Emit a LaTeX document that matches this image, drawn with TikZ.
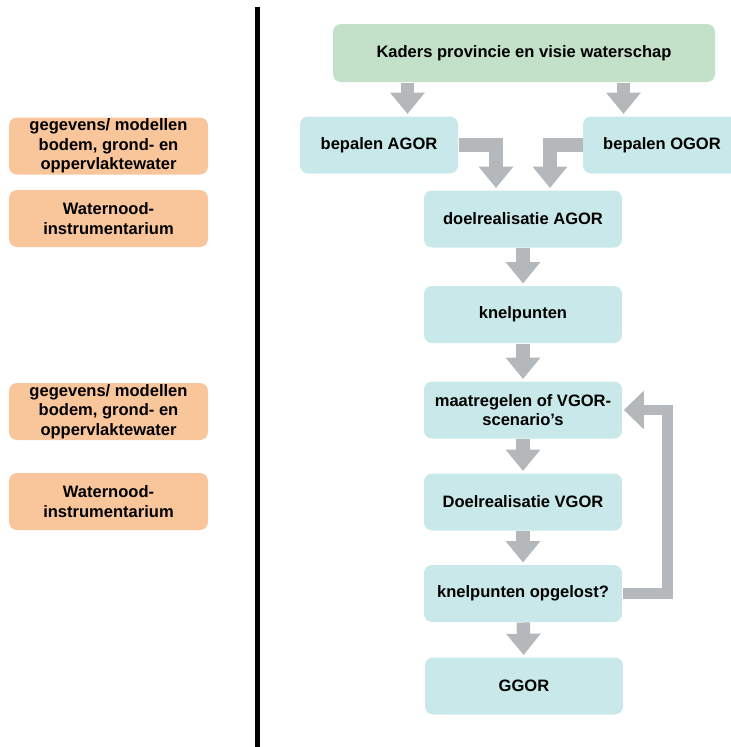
\documentclass[tikz,border=0pt]{standalone}
\usepackage{fontspec}
\setmainfont{Liberation Sans}
\usetikzlibrary{arrows.meta,calc}

\definecolor{kadergreen}{RGB}{195,224,200}
\definecolor{stapblue}{RGB}{201,232,233}
\definecolor{bronorange}{RGB}{249,197,155}
\definecolor{pijlgray}{RGB}{180,184,186}

\tikzset{every picture/.style={line width=0.75pt}}
\tikzset{
  boxtext/.style={font=\fontsize{12.4}{14.5}\selectfont\bfseries, align=center, inner sep=0pt},
  kader/.style={boxtext, fill=kadergreen, rounded corners=6pt, minimum width=286.5pt, minimum height=43.5pt},
  stap/.style={boxtext, fill=stapblue, rounded corners=6pt, minimum width=148.5pt, minimum height=42.75pt},
  bron/.style={boxtext, fill=bronorange, rounded corners=6pt, minimum width=149.25pt, minimum height=42.75pt},
  pijl/.style={draw=pijlgray, line width=10pt, shorten >=1.5pt, -{Triangle[width=25pt,length=16pt]}},
  terug/.style={draw=pijlgray, line width=8pt, shorten >=1pt, -{Triangle[width=28pt,length=15pt]}}
}

\begin{document}
\begin{tikzpicture}[x=0.75pt,y=0.75pt,yscale=-1,xscale=1]
\useasboundingbox (0,0) rectangle (731,747);
\clip (0,0) rectangle (731,747);

%Straight Lines (divider)
\draw [line width=3.5pt] (257.5,7) -- (257.5,747);

%Rounded Rect (left column)
\node [bron] (gegevens1) at (108.5,146) {gegevens/ modellen\\bodem, grond- en\\oppervlaktewater};
\node [bron] (waternood1) at (108.5,218.5) {Waternood-\\instrumentarium};
\node [bron] (gegevens2) at (108.5,411.5) {gegevens/ modellen\\bodem, grond- en\\oppervlaktewater};
\node [bron] (waternood2) at (108.5,501.5) {Waternood-\\instrumentarium};

%Rounded Rect (flow)
\node [kader] (kaders) at (524,53) {Kaders provincie en visie waterschap};
\node [stap, minimum width=118.5pt] (agor) at (379,145) {bepalen AGOR};
\node [stap, minimum width=118.5pt] (ogor) at (662,145) {bepalen OGOR};
\node [stap] (doelA) at (523,219) {doelrealisatie AGOR};
\node [stap] (knel) at (523,314.5) {knelpunten};
\node [stap] (maat) at (523,410) {maatregelen of VGOR-\\scenario’s};
\node [stap] (doelV) at (523,502) {Doelrealisatie VGOR};
\node [stap] (opgelost) at (523,593.5) {knelpunten opgelost?};
\node [stap] (ggor) at (524,686) {GGOR};

%Straight Lines (arrows)
\coordinate (kl) at ($(kaders.south west)+(75,0)$);
\coordinate (kr) at ($(kaders.south east)+(-92,0)$);
\draw [pijl] (kl) -- (kl |- agor.north);
\draw [pijl] (kr) -- (kr |- ogor.north);
\draw [pijl] (agor.east) -| ($(doelA.north)+(-27,0)$);
\draw [pijl] (ogor.west) -| ($(doelA.north)+(27,0)$);
\draw [pijl] (doelA) -- (knel);
\draw [pijl] (knel) -- (maat);
\draw [pijl] (maat) -- (doelV);
\draw [pijl] (doelV) -- (opgelost);
\draw [pijl] (opgelost) -- (ggor);
\draw [terug] (opgelost.east) -- ++(45,0) |- (maat.east);

\end{tikzpicture}
\end{document}
